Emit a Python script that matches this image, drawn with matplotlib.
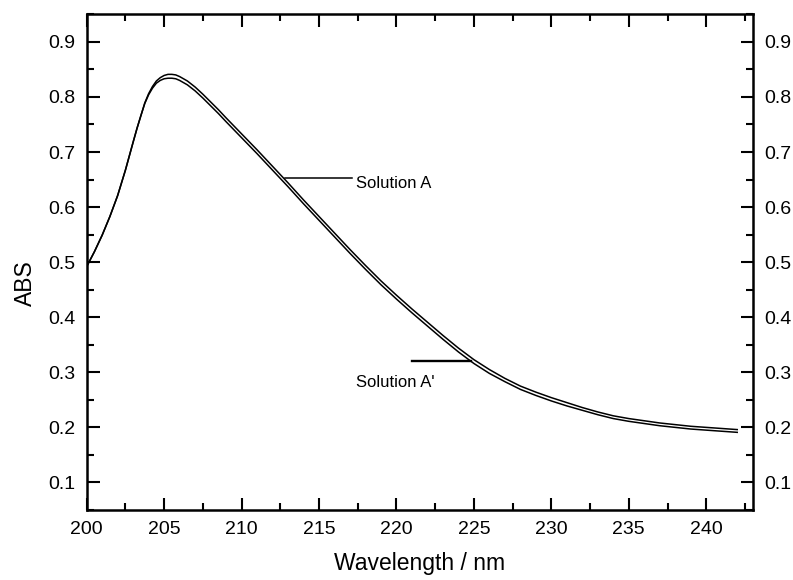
import matplotlib
matplotlib.use('Agg')
import matplotlib.pyplot as plt
from matplotlib.ticker import MultipleLocator

plt.rcParams['font.family'] = ['Liberation Sans', 'DejaVu Sans']

# wavelength (nm) and absorbance
wavelength = [200, 200.5, 201, 201.5, 202, 202.5, 203, 203.25, 203.5, 203.75,
              204, 204.25, 204.5, 204.75, 205, 205.25, 205.5, 205.75, 206, 206.5,
              207, 207.5, 208, 208.5, 209, 210, 211, 212,
              213, 214, 215, 216, 217, 218, 219, 220, 221, 222,
              223, 224, 225, 226, 227, 228, 229, 230, 231, 232,
              233, 234, 235, 236, 237, 238, 239, 240, 241, 242]
abs_A = [0.492, 0.519, 0.549, 0.583, 0.621, 0.667, 0.718, 0.743, 0.766, 0.789,
         0.806, 0.819, 0.829, 0.835, 0.839, 0.841, 0.841, 0.840, 0.837, 0.829,
         0.818, 0.805, 0.791, 0.777, 0.762, 0.733, 0.704, 0.674,
         0.644, 0.613, 0.583, 0.553, 0.523, 0.494, 0.466, 0.440, 0.415, 0.391,
         0.367, 0.344, 0.323, 0.305, 0.289, 0.275, 0.264, 0.254, 0.245, 0.236,
         0.228, 0.221, 0.216, 0.212, 0.208, 0.205, 0.202, 0.200, 0.198, 0.196]
abs_A2 = [0.492, 0.519, 0.549, 0.583, 0.621, 0.667, 0.718, 0.743, 0.766, 0.788,
          0.804, 0.816, 0.825, 0.830, 0.833, 0.834, 0.834, 0.833, 0.830, 0.822,
          0.811, 0.798, 0.784, 0.770, 0.755, 0.726, 0.697, 0.667,
          0.637, 0.606, 0.576, 0.546, 0.516, 0.487, 0.459, 0.433, 0.408, 0.384,
          0.360, 0.337, 0.316, 0.298, 0.283, 0.269, 0.258, 0.248, 0.239, 0.231,
          0.223, 0.216, 0.211, 0.207, 0.203, 0.200, 0.197, 0.195, 0.193, 0.191]

fig = plt.figure(figsize=(7.93, 5.80), dpi=100)
ax = fig.add_axes([0.1093, 0.1207, 0.8399, 0.8546])

ax.plot(wavelength, abs_A, color='black', lw=1.1)
ax.plot(wavelength, abs_A2, color='black', lw=1.1)

# label leaders
ax.plot([212.8, 217.1], [0.653, 0.653], color='black', lw=1.1)
ax.text(217.4, 0.642, "Solution A", fontsize=12, va='center', ha='left')
ax.plot([221.0, 224.8], [0.320, 0.320], color='black', lw=1.7)
ax.text(217.4, 0.282, "Solution A'", fontsize=12, va='center', ha='left')

ax.set_xlim(200, 243)
ax.set_ylim(0.05, 0.95)
ax.xaxis.set_major_locator(MultipleLocator(5))
ax.xaxis.set_minor_locator(MultipleLocator(2.5))
ax.yaxis.set_minor_locator(MultipleLocator(0.05))
ax.set_yticks([0.1, 0.2, 0.3, 0.4, 0.5, 0.6, 0.7, 0.8, 0.9])
ax.set_yticklabels(["0.1", "0.2", "0.3", "0.4", "0.5", "0.6", "0.7", "0.8", "0.9"])

ax.tick_params(which='both', direction='in', top=True, right=True,
               labelright=True, labelsize=14, width=1.5)
ax.tick_params(which='major', length=9, pad=8)
ax.tick_params(which='minor', length=5)
for s in ax.spines.values():
    s.set_linewidth(1.8)

ax.set_xlabel("Wavelength / nm", fontsize=16.5, labelpad=10)
ax.set_ylabel("ABS", fontsize=16.5)
ax.yaxis.set_label_coords(-0.075, 0.458)

fig.savefig("out.png", dpi=100)
